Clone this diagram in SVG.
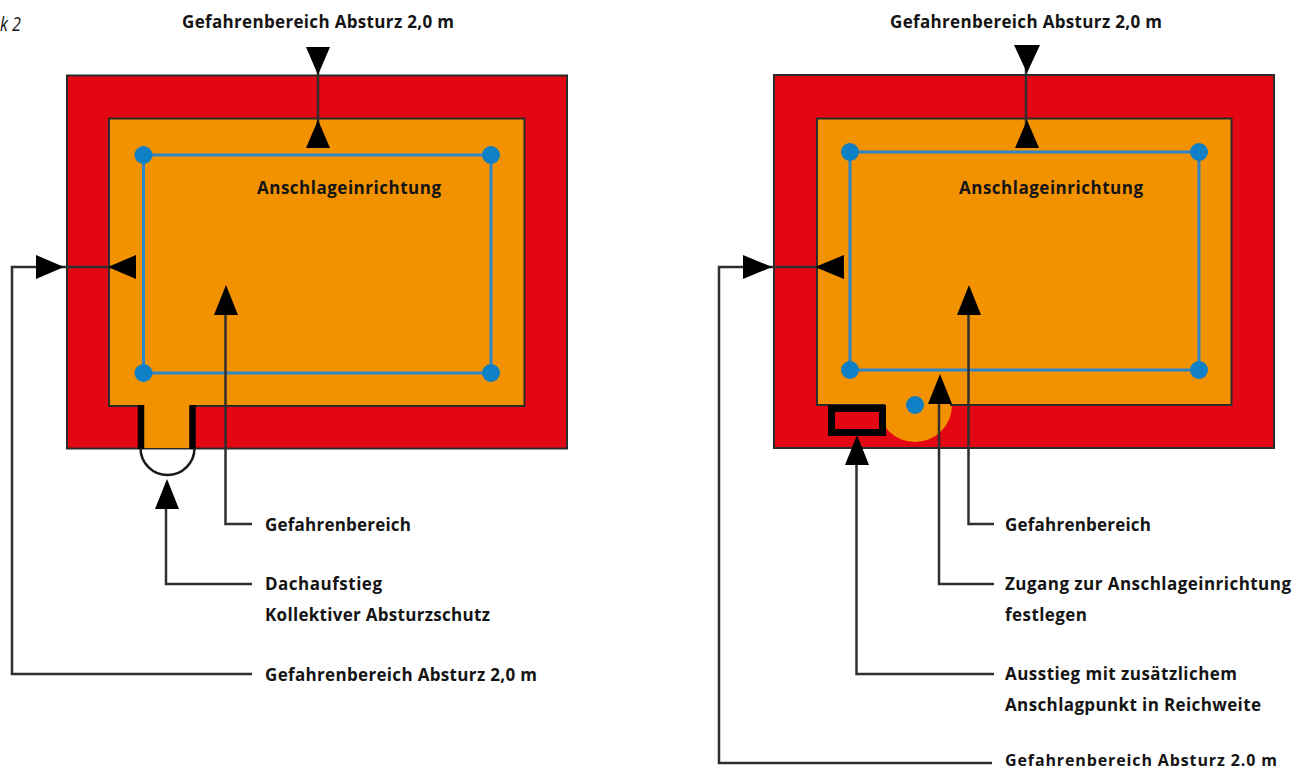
<svg xmlns="http://www.w3.org/2000/svg" width="1306" height="771" viewBox="0 0 1306 771">
<style>
.red{fill:#e30613;stroke:#2b2b2b;stroke-width:2}
.org{fill:#f39200}
.edge{fill:none;stroke:#2b2b2b;stroke-width:2}
.rail{fill:none;stroke:#2f86c6;stroke-width:3}
.dot{fill:#0f7fc6}
.con{fill:none;stroke:#2f2f2f;stroke-width:2.500}
.ah{fill:#000}
text{font-family:"Open Sans","Liberation Sans",sans-serif;font-size:17px;font-weight:700;fill:#141414}
</style>
<rect width="1306" height="771" fill="#fff"/>
<text x="0" y="31" style="font-weight:400;font-style:italic;font-size:20px" textLength="21" lengthAdjust="spacingAndGlyphs">k 2</text>
<g id="left-roof">
<rect class="red" x="67" y="75.500" width="500" height="373"/>
<rect class="org" x="109" y="118" width="415.500" height="288"/>
<path class="edge" d="M140 406H109V118.500H524.500V406H195"/>
<rect class="org" x="144" y="405" width="46" height="43"/>
<path d="M141 405V449M192.500 405V449" fill="none" stroke="#000" stroke-width="6.500"/>
<path d="M140.500 448A27 27 0 0 0 194.500 448" fill="none" stroke="#1a1a1a" stroke-width="2.500"/>
</g>
<g id="left-anchor">
<path class="rail" d="M143.500 155H491V373H143.500Z"/>
<circle class="dot" cx="143.500" cy="155" r="9"/><circle class="dot" cx="491" cy="155" r="9"/>
<circle class="dot" cx="143.500" cy="373" r="9"/><circle class="dot" cx="491" cy="373" r="9"/>
</g>
<g id="right-roof">
<rect class="red" x="774" y="75" width="500" height="373"/>
<circle class="org" cx="915" cy="405" r="37"/>
<rect class="org" x="817" y="118" width="414.500" height="287"/>
<path class="edge" d="M885 405H817V118.500H1231.500V405H950"/>
<rect x="831.500" y="408.500" width="51" height="24" fill="#e30613" stroke="#000" stroke-width="7"/>
</g>
<g id="right-anchor">
<path class="rail" d="M850 152H1199V370H850Z"/>
<circle class="dot" cx="850" cy="152" r="9"/><circle class="dot" cx="1199" cy="152" r="9"/>
<circle class="dot" cx="850" cy="370" r="9"/><circle class="dot" cx="1199" cy="370" r="9"/>
<circle class="dot" cx="915" cy="405" r="9"/>
</g>
<g id="connectors">
<path class="con" d="M318 60V135"/>
<path class="con" d="M65 267H12V674H252"/>
<path class="con" d="M65 267H125"/>
<path class="con" d="M225.500 300V524H252"/>
<path class="con" d="M166 495V584H252"/>
<path class="con" d="M1026 60V135"/>
<path class="con" d="M772 267H719V763H992"/>
<path class="con" d="M772 267H832"/>
<path class="con" d="M968.500 300V524H994"/>
<path class="con" d="M939 390V584H994"/>
<path class="con" d="M856.500 450V674H994"/>
<g class="ah">
<path d="M306 47H330L318 75Z"/><path d="M306 148H330L318 120Z"/>
<path d="M36 255L64 267L36 279Z"/><path d="M136 255L108 267L136 279Z"/>
<path d="M214 315H238L226 285Z"/><path d="M155 509H179L167 479Z"/>
<path d="M1014 45H1040L1027 73Z"/><path d="M1015 148H1039L1027 120Z"/>
<path d="M743 255L772 267L743 279Z"/><path d="M844 255L815 267L844 279Z"/>
<path d="M957 315H981L969 285Z"/><path d="M928 404H952L940 374Z"/>
<path d="M845 465H869L857 435Z"/>
</g>
</g>
<g id="labels">
<text x="182" y="28" textLength="272">Gefahrenbereich Absturz 2,0 m</text>
<text x="257" y="194" textLength="184">Anschlageinrichtung</text>
<text x="265" y="531" textLength="146">Gefahrenbereich</text>
<text x="265" y="590" textLength="117">Dachaufstieg</text>
<text x="265" y="621" textLength="225">Kollektiver Absturzschutz</text>
<text x="265" y="681" textLength="272">Gefahrenbereich Absturz 2,0 m</text>
<text x="890" y="28" textLength="272">Gefahrenbereich Absturz 2,0 m</text>
<text x="959" y="194" textLength="184">Anschlageinrichtung</text>
<text x="1005" y="531" textLength="146">Gefahrenbereich</text>
<text x="1005" y="590" textLength="286">Zugang zur Anschlageinrichtung</text>
<text x="1005" y="621" textLength="82">festlegen</text>
<text x="1005" y="680" textLength="232">Ausstieg mit zusätzlichem</text>
<text x="1005" y="711" textLength="256">Anschlagpunkt in Reichweite</text>
<text x="1005" y="766" style="font-size:16px" textLength="272">Gefahrenbereich Absturz 2.0 m</text>
</g>
</svg>
